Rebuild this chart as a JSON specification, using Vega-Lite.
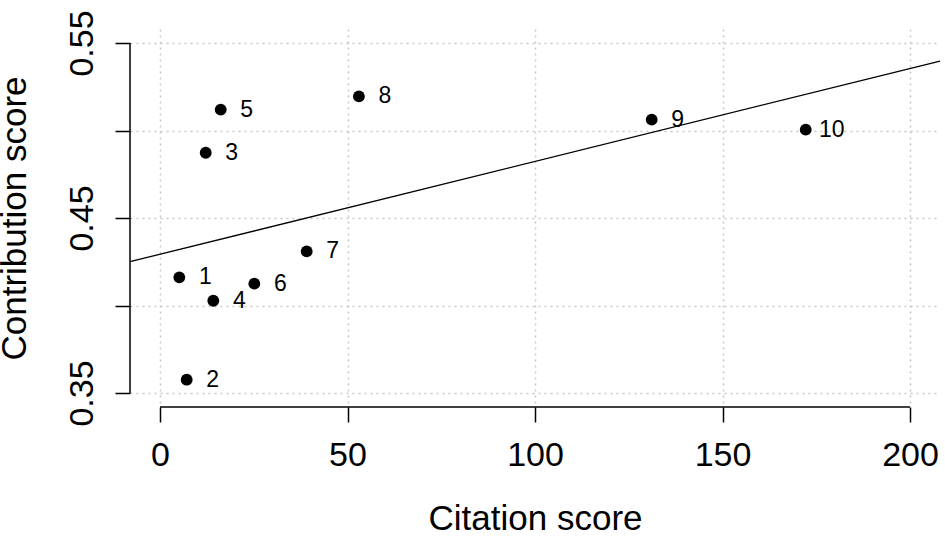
{
  "$schema": "https://vega.github.io/schema/vega-lite/v6.json",
  "width": 810,
  "height": 378,
  "autosize": "none",
  "padding": {"left": 130, "top": 29, "right": 5, "bottom": 131},
  "background": "white",
  "config": {"view": {"stroke": null}, "font": "Liberation Sans"},
  "data": {"values": [
    {"id": "1", "citation": 5.15, "contribution": 0.4161},
    {"id": "2", "citation": 7.12, "contribution": 0.3576},
    {"id": "3", "citation": 12.19, "contribution": 0.4873},
    {"id": "4", "citation": 14.21, "contribution": 0.4027},
    {"id": "5", "citation": 16.19, "contribution": 0.5119},
    {"id": "6", "citation": 25.15, "contribution": 0.4125},
    {"id": "7", "citation": 39.12, "contribution": 0.4309},
    {"id": "8", "citation": 53.04, "contribution": 0.5195},
    {"id": "9", "citation": 131.12, "contribution": 0.5062},
    {"id": "10", "citation": 172.19, "contribution": 0.5005}
  ]},
  "layer": [
    {
      "mark": {"type": "circle", "size": 140, "color": "black", "opacity": 1},
      "encoding": {
        "x": {
          "field": "citation", "type": "quantitative",
          "scale": {"domain": [-8, 208], "nice": false, "zero": false},
          "axis": {
            "values": [0, 50, 100, 150, 200],
            "domain": false,
            "tickSize": 15, "tickColor": "black", "tickWidth": 1.5,
            "labelFontSize": 34, "labelColor": "black", "labelPadding": 16,
            "labelFlush": false, "labelOverlap": false,
            "grid": true, "gridDash": [2, 4], "gridColor": "#c8c8c8", "gridWidth": 1.5,
            "title": "Citation score", "titleFontSize": 35, "titleFontWeight": "normal",
            "titleColor": "black", "titleY": 122, "titleBaseline": "alphabetic"
          }
        },
        "y": {
          "field": "contribution", "type": "quantitative",
          "scale": {"domain": [0.342, 0.558], "nice": false, "zero": false},
          "axis": {
            "values": [0.35, 0.4, 0.45, 0.5, 0.55],
            "format": ".2f",
            "labelExpr": "datum.value == 0.4 || datum.value == 0.5 ? '' : datum.label",
            "domain": false,
            "tickSize": 15, "tickColor": "black", "tickWidth": 1.5,
            "labelFontSize": 34, "labelColor": "black", "labelPadding": 16,
            "labelAngle": -90, "labelAlign": "center", "labelBaseline": "bottom",
            "labelFlush": false, "labelOverlap": false,
            "grid": true, "gridDash": [2, 4], "gridColor": "#c8c8c8", "gridWidth": 1.5,
            "title": "Contribution score", "titleFontSize": 35, "titleFontWeight": "normal",
            "titleColor": "black", "titleAngle": -90, "titleX": -105, "titleY": 189,
            "titleAlign": "center", "titleBaseline": "alphabetic"
          }
        }
      }
    },
    {
      "mark": {"type": "text", "dx": 26, "align": "center", "baseline": "middle", "fontSize": 23, "color": "black"},
      "encoding": {
        "x": {"field": "citation", "type": "quantitative"},
        "y": {"field": "contribution", "type": "quantitative"},
        "text": {"field": "id"}
      }
    },
    {
      "transform": [{"regression": "contribution", "on": "citation", "extent": [-8, 208]}],
      "mark": {"type": "line", "color": "black", "strokeWidth": 1.3},
      "encoding": {
        "x": {"field": "citation", "type": "quantitative"},
        "y": {"field": "contribution", "type": "quantitative"}
      }
    },
    {
      "data": {"values": [{}]},
      "mark": {"type": "rule", "color": "black", "strokeWidth": 1.5},
      "encoding": {"x": {"datum": 0}, "x2": {"datum": 200}, "y": {"datum": 0.342}}
    },
    {
      "data": {"values": [{}]},
      "mark": {"type": "rule", "color": "black", "strokeWidth": 1.5},
      "encoding": {"x": {"datum": -8}, "y": {"datum": 0.35}, "y2": {"datum": 0.55}}
    }
  ]
}
